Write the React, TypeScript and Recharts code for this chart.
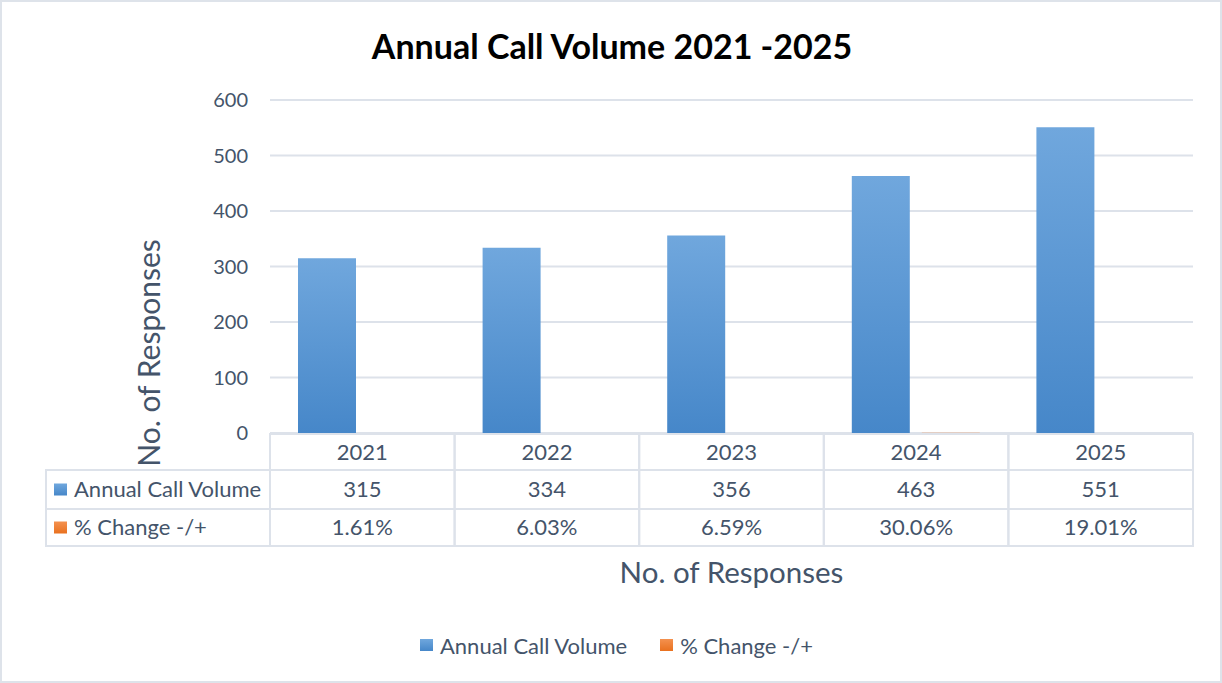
import React from 'react';
import { BarChart, Bar, XAxis, YAxis, CartesianGrid, Legend } from 'recharts';

const years = ['2021', '2022', '2023', '2024', '2025'];
const callVolume = [315, 334, 356, 463, 551];
const pctChange = [1.61, 6.03, 6.59, 30.06, 19.01];
const yTicks = [0, 100, 200, 300, 400, 500, 600];
const seriesNames = ['Annual Call Volume', '% Change -/+'];

const data = years.map((y, i) => ({ year: y, volume: callVolume[i], pct: pctChange[i] / 100 }));

const TEXT = '#44546A';
const GRID = '#DDE2EA';
const FONT = 'Lato, "Open Sans", sans-serif';
const TABLE_LEFT = 46;
const PLOT_BOTTOM = 433;
const TFS = 22;

const BlueSwatch = ({ x, y }: { x: number; y: number }) => (
  <rect x={x} y={y} width={13} height={12} fill="url(#blueGrad)" />
);
const OrangeSwatch = ({ x, y }: { x: number; y: number }) => (
  <rect x={x} y={y} width={13} height={12} fill="url(#orangeGrad)" />
);

const TableTick = (props: any) => {
  const { x, payload, index } = props;
  const half = payload && typeof payload.offset === 'number' && payload.offset > 0 ? payload.offset : 92.2;
  const left = x - half;
  const w = half * 2;
  const top = PLOT_BOTTOM + 1;
  const r1 = top + 36;
  const r2 = r1 + 39;
  const r3 = r2 + 37;
  const i = index as number;
  return (
    <g>
      <rect x={left} y={top} width={w} height={r1 - top} fill="none" stroke={GRID} strokeWidth={2} />
      <rect x={left} y={r1} width={w} height={r2 - r1} fill="none" stroke={GRID} strokeWidth={2} />
      <rect x={left} y={r2} width={w} height={r3 - r2} fill="none" stroke={GRID} strokeWidth={2} />
      <text x={x} y={(top + r1) / 2} dy="0.35em" textAnchor="middle" fill={TEXT} fontSize={TFS} fontFamily={FONT}>
        {payload.value}
      </text>
      <text x={x} y={(r1 + r2) / 2} dy="0.35em" textAnchor="middle" fill={TEXT} fontSize={TFS} fontFamily={FONT}>
        {callVolume[i]}
      </text>
      <text x={x} y={(r2 + r3) / 2} dy="0.35em" textAnchor="middle" fill={TEXT} fontSize={TFS} fontFamily={FONT}>
        {pctChange[i].toFixed(2) + '%'}
      </text>
      {i === 0 && (
        <g>
          <rect x={TABLE_LEFT} y={r1} width={left - TABLE_LEFT} height={r2 - r1} fill="none" stroke={GRID} strokeWidth={2} />
          <rect x={TABLE_LEFT} y={r2} width={left - TABLE_LEFT} height={r3 - r2} fill="none" stroke={GRID} strokeWidth={2} />
          <BlueSwatch x={TABLE_LEFT + 8} y={(r1 + r2) / 2 - 6} />
          <OrangeSwatch x={TABLE_LEFT + 8} y={(r2 + r3) / 2 - 6} />
          <text x={TABLE_LEFT + 28} y={(r1 + r2) / 2} dy="0.35em" fill={TEXT} fontSize={TFS} fontFamily={FONT}>
            {seriesNames[0]}
          </text>
          <text x={TABLE_LEFT + 28} y={(r2 + r3) / 2} dy="0.35em" fill={TEXT} fontSize={TFS} fontFamily={FONT}>
            {seriesNames[1]}
          </text>
        </g>
      )}
    </g>
  );
};

const LegendContent = () => (
  <div style={{ height: 60, display: 'flex', alignItems: 'center', justifyContent: 'center', paddingLeft: 40, boxSizing: 'border-box', fontFamily: FONT, fontSize: TFS, color: TEXT }}>
    <span style={{ display: 'inline-block', width: 13, height: 12, background: 'linear-gradient(#70A7DD, #4687C9)', marginRight: 7 }} />
    <span style={{ marginRight: 33 }}>{seriesNames[0]}</span>
    <span style={{ display: 'inline-block', width: 13, height: 12, background: 'linear-gradient(#F4914F, #E9711F)', marginRight: 7 }} />
    <span>{seriesNames[1]}</span>
  </div>
);

const YLabel = () => (
  <text
    x={160}
    y={353}
    transform="rotate(-90, 160, 353)"
    textAnchor="middle"
    fill={TEXT}
    fontSize={30}
    fontFamily={FONT}
  >
    No. of Responses
  </text>
);

export default function App() {
  return (
    <div style={{ position: 'relative', width: 1222, height: 683, background: '#fff' }}>
      <style>{'body{margin:0;}'}</style>
      <BarChart
        width={1222}
        height={683}
        data={data}
        margin={{ top: 100, right: 29, left: 0, bottom: 8 }}
        barCategoryGap={28}
        barGap={12}
      >
        <defs>
          <linearGradient id="blueGrad" x1="0" y1="0" x2="0" y2="1">
            <stop offset="0%" stopColor="#70A7DD" />
            <stop offset="100%" stopColor="#4687C9" />
          </linearGradient>
          <linearGradient id="orangeGrad" x1="0" y1="0" x2="0" y2="1">
            <stop offset="0%" stopColor="#F4914F" />
            <stop offset="100%" stopColor="#E9711F" />
          </linearGradient>
        </defs>
        <text x={612} y={59} textAnchor="middle" fontFamily={FONT} fontWeight={700} fontSize={34} fill="#000">
          Annual Call Volume 2021 -2025
        </text>
        <CartesianGrid vertical={false} stroke={GRID} strokeWidth={2} />
        <XAxis
          dataKey="year"
          height={182}
          axisLine={false}
          tickLine={false}
          tickSize={0}
          tickMargin={0}
          tick={<TableTick />}
          interval={0}
          label={{ value: 'No. of Responses', position: 'insideTop', dy: 124, dx: 0, fill: TEXT, fontSize: 29.5, fontFamily: FONT }}
        />
        <YAxis
          width={270}
          domain={[0, 600]}
          ticks={yTicks}
          axisLine={false}
          tickLine={false}
          tickSize={0}
          tickMargin={22}
          tick={{ fill: TEXT, fontSize: 20, fontFamily: FONT }}
          label={<YLabel />}
        />
        <Legend verticalAlign="bottom" content={<LegendContent />} />
        <Bar dataKey="volume" name={seriesNames[0]} fill="url(#blueGrad)" isAnimationActive={false} />
        <Bar dataKey="pct" name={seriesNames[1]} fill="url(#orangeGrad)" isAnimationActive={false} />
      </BarChart>
      <div style={{ position: 'absolute', left: 0, top: 0, width: 1222, height: 683, boxSizing: 'border-box', border: '2px solid #DEE3EA', pointerEvents: 'none' }} />
    </div>
  );
}
